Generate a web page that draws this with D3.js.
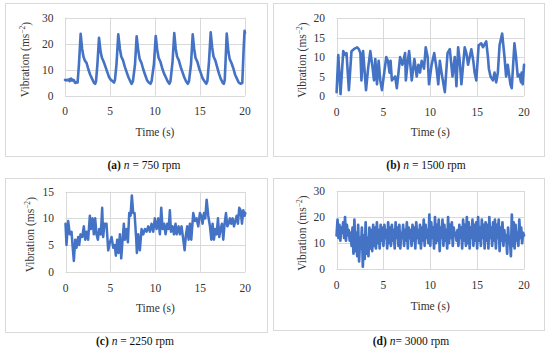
<!DOCTYPE html>
<html><head><meta charset="utf-8">
<script src="https://cdn.jsdelivr.net/npm/d3@7"></script>
<style>body{margin:0;background:#fff}svg{display:block}</style>
</head><body>
<svg id="chart" width="550" height="352"></svg>
<script>
// ---------- DATA ----------
const xTicks = [0, 5, 10, 15, 20];

const aTicks = [0, 10, 20, 30];
const aTime = [0,0.1,0.2,0.3,0.4,0.5,0.55,0.6,0.7,0.8,0.9,1.0,1.1,1.2,1.3,1.4,
  1.55,1.74,1.9,2.05,2.2,2.4,2.6,2.8,3.0,3.2,3.35,3.45,
  3.6,3.78,3.95,4.1,4.3,4.5,4.7,4.9,5.1,5.3,5.45,5.55,
  5.72,5.92,6.1,6.25,6.45,6.65,6.85,7.05,7.25,7.4,7.55,
  7.78,7.96,8.15,8.3,8.5,8.7,8.9,9.1,9.3,9.5,9.62,
  9.88,10.08,10.25,10.4,10.6,10.8,11.0,11.2,11.4,11.6,11.72,
  11.95,12.14,12.3,12.45,12.65,12.85,13.05,13.25,13.45,13.65,13.78,
  14.0,14.19,14.35,14.5,14.7,14.9,15.1,15.3,15.5,15.7,15.82,
  16.0,16.19,16.35,16.5,16.7,16.9,17.1,17.3,17.5,17.65,17.75,
  17.85,17.97,18.15,18.3,18.5,18.7,18.9,19.1,19.3,19.5,19.7,
  19.85,19.95,20.0];
const aVib = [6,5.8,6,5.9,6.1,5.5,6.3,5.8,6.5,5.7,6,5.9,5,4.8,5.2,5.0,
  12,23.7,18,15,13.5,12.5,10,8,6.5,5,4.5,5.5,
  12,22.2,17,14.5,13,11,9,7,6,5.5,5,6,
  12,23.5,18,15,13.5,11,9,7,5.5,4.5,5.5,
  12,22.8,17,14,12.5,10,8,6,5,4.5,5.5,
  12,22.9,17.5,14.5,13,10.5,8.5,7,5.5,4.5,5.5,
  13,24,18,15,13.5,11,9,7,5.5,4.5,5.5,
  12,23.5,18,14.5,13,10.5,8.5,6.5,5.5,4.5,5.5,
  13,24.3,18.5,15,13.5,11,8.5,6.5,5,4.5,6,
  14,23.8,17,14,12.5,10.5,8,6.5,5,4.5,4.8,
  18,24.9,24];

const bTicks = [0, 5, 10, 15, 20];
const bTime = [0,0.18,0.42,0.71,0.95,1.06,1.31,1.59,1.84,2.19,2.37,2.54,2.65,2.83,3.14,3.36,3.60,3.85,3.99,
  4.13,4.31,4.49,4.66,4.84,5.30,5.48,5.65,5.76,5.90,6.25,6.43,6.78,7.03,7.31,7.39,7.60,7.74,8.02,8.30,
  8.55,8.73,8.90,9.08,9.33,9.51,9.72,9.86,10.14,10.42,10.67,10.85,11.02,11.20,11.55,11.84,12.08,12.37,
  12.61,12.79,12.97,13.14,13.32,13.67,13.85,14.03,14.38,14.59,14.73,14.91,15.16,15.44,15.62,15.97,
  16.15,16.25,16.43,16.68,16.86,17.03,17.21,17.39,17.67,17.92,18.09,18.27,18.55,18.69,18.98,19.15,
  19.33,19.51,19.68,19.75,19.86,20.0];
const bVib = [1,10.5,0.5,11.5,10.5,11,1.5,11.5,12,12.5,12,11,4,11.5,1.5,7,11.5,7,4,
  9.5,3,9,4,1.5,10,9,6,9,4,5,2,10,8,11,4,9,11.5,4,9.5,
  5,8,6,9,7,12.5,10,3,8,11,7,3,9,6,1,11,12,5,
  10,2.5,12.5,9,3,12.5,11,8,12,9,6,4,13,13.5,12.5,14,
  10,7,5,4,6,3.5,6,13,16,10,5,8,3,2,13.5,10,
  5,5.5,3.5,6,3,8];

const cTicks = [0, 5, 10, 15];
const cTime = [0,0.11,0.30,0.48,0.67,0.78,0.93,1.08,1.22,1.41,1.52,1.67,1.86,2.04,2.19,2.34,2.52,2.71,2.82,
  3.01,3.15,3.30,3.45,3.60,3.75,3.93,4.08,4.19,4.34,4.56,4.75,4.94,5.12,5.31,5.49,5.60,5.75,5.90,6.05,
  6.20,6.35,6.49,6.60,6.79,6.94,7.09,7.24,7.38,7.53,7.68,7.87,7.94,8.09,8.27,8.46,8.65,8.83,9.02,9.20,
  9.39,9.57,9.76,9.94,10.13,10.32,10.50,10.65,10.80,10.98,11.13,11.32,11.47,11.61,11.73,11.91,12.06,
  12.24,12.36,12.58,12.73,12.91,13.10,13.25,13.40,13.54,13.69,13.84,13.99,14.21,14.40,14.58,14.77,
  14.95,15.10,15.25,15.40,15.55,15.70,15.88,16.07,16.22,16.36,16.51,16.66,16.81,16.96,17.10,17.25,
  17.40,17.55,17.70,17.85,18.00,18.14,18.29,18.44,18.59,18.74,18.89,19.04,19.18,19.33,19.48,19.63,
  19.78,19.93,20.0];
const cVib = [9,5,9.5,7,7.5,5,2,6,4.5,6.5,5,7,6.5,8.5,6,7.5,6,10.5,8,
  10,7,10,7,6,8,7,12,6.5,9,9,4,5.5,6.5,4.5,5,3,6,3.5,7,
  2.5,6,9,6,8,5.5,11,10.5,14.3,11,11,6,3.5,7,4,8,7,8,7.5,8.5,
  7.5,9,7.5,10,8,10,7,12,8,9,7,9,8,11.5,7.5,8.5,7,
  9,7,8.5,7,8.5,6,4,7,8.5,6,9,6,11,9.5,10,8.5,
  11,10.5,9,11,10,13.5,10.5,8.5,6,9,6,8,7,10,6.5,8,
  9,6,9,11,8.5,9,10,9,10,8.5,9.5,10.5,9,12,11.5,9,
  11.5,10.5,11];

const dTicks = [0, 10, 20, 30];
const dStep = 0.1; // sampling interval (s)
const dVib = [
  13,19,12,17,11,16,14,18,12,20,
  11,17,13,15,11,14,9,16,6,19,
  7,14,5,17,3,12,8,16,1,13,
  4,18,6,12,5,16,8,15,7,17,
  9,16,8,18,10,15,8,17,11,16,
  9,17,12,15,8,18,10,16,9,17,
  11,15,8,18,12,16,9,17,8,14,
  12,17,9,15,11,18,8,16,12,15,
  9,17,11,16,8,18,12,15,10,17,
  8,16,11,19,9,17,12,15,10,21,
  9,18,12,16,8,20,10,17,11,19,
  7,16,12,19,9,17,11,15,8,20,
  10,17,12,18,9,16,13,14,11,15,
  9,17,12,16,8,19,11,17,9,20,
  10,18,8,16,12,19,9,17,11,18,
  8,20,11,16,9,19,12,17,8,18,
  11,17,8,20,12,16,9,18,11,19,
  8,17,12,19,7,16,11,18,9,15,
  11,13,6,16,10,12,5,21,9,18,
  8,17,11,14,9,19,12,16,10,14,
  13];
const dTime = dVib.map((_, i) => +(i * dStep).toFixed(2));

const captions = [
  {lab: "(a)", n: "n", rest: " = 750 rpm"},
  {lab: "(b)", n: "n", rest: " = 1500 rpm"},
  {lab: "(c)", n: "n", rest: " = 2250 rpm"},
  {lab: "(d)", n: "n", rest: "= 3000 rpm"}
];

// ---------- LAYOUT ----------
const panels = [
  {t: aTime, v: aVib, ticks: aTicks, frame: [5, 3, 262, 153], p: [65, 245, 17.5, 95.5], ytx: 25, cap: [144, 169], sw: 2.6},
  {t: bTime, v: bVib, ticks: bTicks, frame: [273, 3, 271, 153], p: [336.6, 524, 18, 96], ytx: 301.7, cap: [426, 169], sw: 2.6},
  {t: cTime, v: cVib, ticks: cTicks, frame: [5, 178, 262, 154], p: [65.5, 245.3, 191.7, 271.7], ytx: 30, cap: [135, 344.5], sw: 2.5},
  {t: dTime, v: dVib, ticks: dTicks, frame: [273, 178, 271, 152], p: [336.6, 524, 191, 269.3], ytx: 301.7, cap: [411, 345], sw: 2.7}
];

const FONT = "'Liberation Serif', 'DejaVu Serif', serif";
const svg = d3.select("#chart");
const gridCol = "#d9d9d9";
const lineCol = "#4472C4";
const txtCol = "#333";

panels.forEach((P, i) => {
  const [fx, fy, fw, fh] = P.frame;
  svg.append("rect").attr("x", fx + 0.5).attr("y", fy + 0.5).attr("width", fw).attr("height", fh)
    .attr("fill", "none").attr("stroke", gridCol).attr("stroke-width", 1);

  const [x0, x1, y0, y1] = P.p;
  const x = d3.scaleLinear().domain([0, 20]).range([x0, x1]);
  const y = d3.scaleLinear().domain([0, d3.max(P.ticks)]).range([y1, y0]);
  const g = svg.append("g");

  g.selectAll(".hg").data(P.ticks).enter().append("line")
    .attr("x1", x0).attr("x2", x1)
    .attr("y1", d => Math.round(y(d)) + 0.5).attr("y2", d => Math.round(y(d)) + 0.5)
    .attr("stroke", gridCol).attr("stroke-width", 1);
  g.selectAll(".vg").data(xTicks).enter().append("line")
    .attr("y1", y0).attr("y2", y1)
    .attr("x1", d => Math.round(x(d)) + 0.5).attr("x2", d => Math.round(x(d)) + 0.5)
    .attr("stroke", gridCol).attr("stroke-width", 1);

  g.selectAll(".yl").data(P.ticks).enter().append("text")
    .attr("x", x0 - 11.5).attr("y", d => y(d)).attr("dy", "0.35em")
    .attr("text-anchor", "end").attr("font-family", FONT).attr("font-size", 11.5)
    .attr("fill", txtCol).text(d => d);
  g.selectAll(".xl").data(xTicks).enter().append("text")
    .attr("x", d => x(d)).attr("y", y1 + 15.8).attr("dy", "0.35em")
    .attr("text-anchor", "middle").attr("font-family", FONT).attr("font-size", 11.5)
    .attr("fill", txtCol).text(d => d);

  g.append("text").attr("x", (x0 + x1) / 2).attr("y", y1 + 36.2).attr("dy", "0.35em")
    .attr("text-anchor", "middle").attr("font-family", FONT).attr("font-size", 11.5)
    .attr("fill", txtCol).text("Time (s)");
  const yt = g.append("text")
    .attr("transform", `translate(${P.ytx},${(y0 + y1) / 2 + 3}) rotate(-90)`)
    .attr("dy", "0.35em").attr("text-anchor", "middle").attr("font-family", FONT)
    .attr("font-size", 11.5).attr("fill", txtCol);
  yt.append("tspan").text("Vibration (ms");
  yt.append("tspan").attr("font-size", 7.5).attr("dy", "-0.5em").text("\u22122");
  yt.append("tspan").attr("dy", "0.4em").text(")");

  const data = P.t.map((t, k) => [t, P.v[k]]);
  g.append("path").datum(data)
    .attr("d", d3.line().x(d => x(d[0])).y(d => y(d[1])))
    .attr("fill", "none").attr("stroke", lineCol).attr("stroke-width", P.sw)
    .attr("stroke-linejoin", "round").attr("stroke-linecap", "round");

  const c = captions[i];
  const ct = svg.append("text").attr("x", P.cap[0]).attr("y", P.cap[1])
    .attr("text-anchor", "middle").attr("font-family", FONT).attr("font-size", 11.5).attr("fill", "#111");
  ct.append("tspan").attr("font-weight", "bold").text(c.lab);
  ct.append("tspan").text(" ");
  ct.append("tspan").attr("font-style", "italic").text(c.n);
  ct.append("tspan").text(c.rest);
});
</script>
</body></html>
